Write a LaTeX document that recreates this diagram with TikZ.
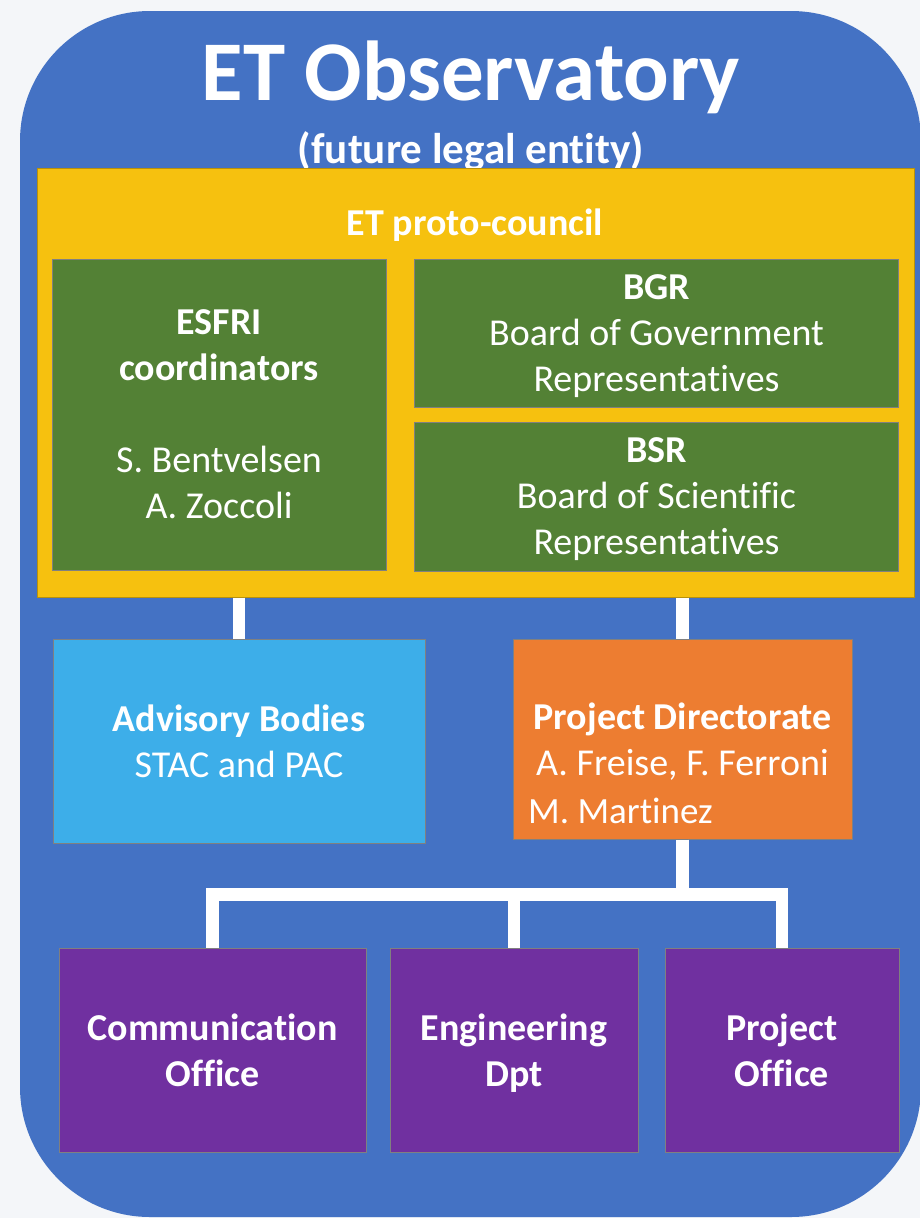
\documentclass[tikz,border=0pt]{standalone}
\usepackage{fontspec}
\setmainfont{Carlito}[Ligatures={NoCommon}]
\usetikzlibrary{positioning}

\definecolor{etpaper}{HTML}{F4F6F9}
\definecolor{etblue}{HTML}{4472C4}
\definecolor{etgold}{HTML}{F6C10F}
\definecolor{etgreen}{HTML}{538135}
\definecolor{etsky}{HTML}{3DAEE9}
\definecolor{etorange}{HTML}{ED7D31}
\definecolor{etpurple}{HTML}{7030A0}

\begin{document}
\begin{tikzpicture}[x=1pt, y=-1pt,
        box/.style={rectangle, draw=black!50, line width=1pt, inner sep=0pt, align=center, text=white, text depth=0pt, font=\fontsize{38}{46}\selectfont},
        heading/.style={text=white, inner sep=0pt, anchor=base},
        link/.style={draw=white, line width=12.5pt, line join=miter}]
        \fill[etpaper] (0,0) rectangle (920,1218);
        \useasboundingbox (0,0) rectangle (920,1218);
        \node[fill=etblue, rounded corners=130pt, minimum width=901pt, minimum height=1206pt] (observatory) at (470.5,614) {};
        \node[heading, font=\fontsize{85}{100}\selectfont\bfseries] (title) at (471,100) {ET Observatory};
        \node[heading, font=\fontsize{43}{50}\selectfont\bfseries] (subtitle) at (471,163) {(future legal entity)};
        \node[box, fill=etgold, draw=etgold!75!black, minimum width=877pt, minimum height=429pt] (council) at (475.5,382.5) {};
        \node[heading, font=\fontsize{38}{44}\selectfont\bfseries] (councilname) at (475,235) {ET proto-council};
        \node[box, fill=etgreen, minimum width=334pt, minimum height=311pt] (esfri) at (219,414.5)
            {\textbf{ESFRI}\\\textbf{coordinators}\\[46pt]S. Bentvelsen\\A. Zoccoli};
        \node[box, fill=etgreen, minimum width=484pt, minimum height=148pt] (bgr) at (656.5,333)
            {\textbf{BGR}\\Board of Government\\Representatives};
        \node[box, fill=etgreen, minimum width=484pt, minimum height=149pt] (bsr) at (656.5,496.5)
            {\textbf{BSR}\\Board of Scientific\\Representatives};
        \node[box, fill=etsky, minimum width=372pt, minimum height=204pt] (advisory) at (239,741)
            {\textbf{Advisory Bodies}\\STAC and PAC};
        \node[box, fill=etorange, minimum width=339pt, minimum height=200pt] (directorate) at (682.5,739)
            {\textbf{Project Directorate}\\A. Freise, F. Ferroni};
        \node[heading, anchor=base west, font=\fontsize{37}{44}\selectfont] (martinez) at (528,823) {M. Martinez};
        \node[box, fill=etpurple, minimum width=307pt, minimum height=204pt] (comm) at (212.5,1050)
            {\textbf{Communication}\\\textbf{Office}};
        \node[box, fill=etpurple, minimum width=248pt, minimum height=204pt] (eng) at (514,1050)
            {\textbf{Engineering}\\\textbf{Dpt}};
        \node[box, fill=etpurple, minimum width=234pt, minimum height=204pt] (projoffice) at (782,1050)
            {\textbf{Project}\\\textbf{Office}};
        \coordinate (bus) at (682.5,894.5);
        \draw[link] (council.south -| advisory.north) -- (advisory.north);
        \draw[link] (council.south -| directorate.north) -- (directorate.north);
        \draw[link] (directorate.south) -- (bus);
        \draw[link] (comm.north) |- (bus) -| (projoffice.north);
        \draw[link] (eng.north) -- (eng.north |- bus);
\end{tikzpicture}
\end{document}
